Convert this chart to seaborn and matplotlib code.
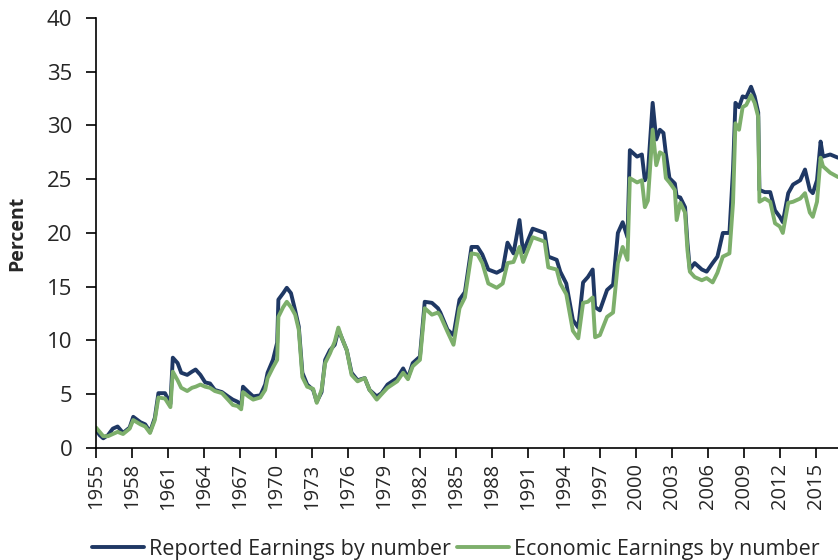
import pandas as pd
import matplotlib
matplotlib.use('Agg')
import matplotlib.pyplot as plt
import seaborn as sns

# Datos (anio, porcentaje)
anios = [1955.0, 1955.3, 1955.6, 1956.0, 1956.4, 1956.8, 1957.25, 1957.8, 1958.1, 1958.7,
         1959.1, 1959.5, 1959.9, 1960.2, 1960.75, 1961.2, 1961.4, 1961.8, 1962.1, 1962.6,
         1963.0, 1963.3, 1963.7, 1964.1, 1964.5, 1964.9, 1965.5, 1966.0, 1966.4, 1966.8,
         1967.1, 1967.25, 1967.7, 1968.1, 1968.7, 1969.1, 1969.3, 1969.75, 1970.1, 1970.2,
         1970.6, 1970.9, 1971.25, 1971.6, 1971.9, 1972.2, 1972.6, 1973.1, 1973.4, 1973.8,
         1974.1, 1974.5, 1974.9, 1975.2, 1975.5, 1975.9, 1976.3, 1976.8, 1977.4, 1977.8,
         1978.4, 1978.8, 1979.3, 1980.1, 1980.6, 1981.0, 1981.4, 1982.0, 1982.4, 1983.0,
         1983.5, 1983.7, 1984.3, 1984.8, 1985.3, 1985.75, 1986.3, 1986.8, 1987.2, 1987.7,
         1988.4, 1988.9, 1989.3, 1989.8, 1990.3, 1990.6, 1991.4, 1992.4, 1992.7, 1993.4,
         1993.7, 1994.2, 1994.75, 1995.2, 1995.6, 1996.0, 1996.4, 1996.6, 1997.0, 1997.6,
         1998.1, 1998.5, 1998.9, 1999.3, 1999.5, 2000.1, 2000.5, 2000.75, 2001.0, 2001.4,
         2001.7, 2002.0, 2002.3, 2002.5, 2002.8, 2003.25, 2003.4, 2003.7, 2004.1, 2004.3,
         2004.5, 2004.9, 2005.5, 2005.9, 2006.4, 2006.8, 2007.25, 2007.8, 2008.1, 2008.3,
         2008.6, 2008.9, 2009.2, 2009.6, 2009.9, 2010.2, 2010.3, 2010.75, 2011.2, 2011.6,
         2012.0, 2012.25, 2012.7, 2013.1, 2013.7, 2014.1, 2014.5, 2014.75, 2015.1, 2015.4,
         2015.6, 2016.2, 2016.85]

reported = [1.7, 1.2, 0.9, 1.2, 1.8, 2.0, 1.4, 1.9, 2.9, 2.4,
            2.2, 1.5, 2.8, 5.1, 5.1, 4.1, 8.4, 7.9, 7.0, 6.8,
            7.1, 7.3, 6.8, 6.1, 6.0, 5.4, 5.2, 4.8, 4.5, 4.3,
            3.9, 5.7, 5.2, 4.8, 4.9, 5.9, 7.0, 8.2, 9.8, 13.8,
            14.4, 14.9, 14.4, 12.8, 11.3, 7.0, 5.9, 5.4, 4.3, 5.2,
            8.2, 9.1, 9.6, 11.0, 10.2, 9.1, 7.0, 6.3, 6.5, 5.4,
            4.8, 5.1, 5.9, 6.5, 7.4, 6.5, 7.9, 8.5, 13.6, 13.5,
            13.0, 12.6, 11.0, 10.5, 13.8, 14.5, 18.7, 18.7, 18.0, 16.6,
            16.3, 16.6, 19.1, 18.1, 21.2, 18.2, 20.4, 20.0, 17.8, 17.5,
            16.4, 15.3, 11.9, 11.2, 15.4, 15.9, 16.6, 13.1, 12.8, 14.7,
            15.2, 20.0, 21.0, 19.6, 27.7, 27.1, 27.3, 24.9, 25.5, 32.1,
            28.7, 29.6, 29.3, 27.4, 25.1, 24.6, 23.4, 23.3, 22.4, 19.1,
            16.6, 17.2, 16.6, 16.4, 17.2, 17.8, 20.0, 20.0, 25.9, 32.1,
            31.7, 32.7, 32.6, 33.6, 32.7, 31.2, 24.0, 23.8, 23.8, 22.1,
            21.5, 21.0, 23.7, 24.5, 24.9, 25.9, 24.0, 23.7, 24.9, 28.5,
            27.1, 27.3, 27.0]

economic = [1.9, 1.5, 1.1, 1.1, 1.3, 1.5, 1.3, 1.8, 2.6, 2.2,
            2.0, 1.4, 2.6, 4.7, 4.6, 3.8, 7.1, 6.3, 5.6, 5.3,
            5.6, 5.7, 5.9, 5.7, 5.6, 5.3, 5.1, 4.5, 4.0, 3.9,
            3.6, 5.2, 4.8, 4.5, 4.7, 5.4, 6.5, 7.5, 8.2, 12.2,
            13.1, 13.6, 13.1, 12.4, 11.0, 6.6, 5.7, 5.5, 4.2, 5.4,
            7.9, 8.8, 9.9, 11.2, 10.2, 9.1, 6.8, 6.2, 6.5, 5.4,
            4.5, 5.0, 5.6, 6.2, 7.0, 6.4, 7.6, 8.2, 13.0, 12.4,
            12.6, 12.3, 10.8, 9.6, 13.0, 14.0, 18.1, 18.0, 17.2, 15.3,
            14.9, 15.3, 17.2, 17.3, 18.7, 17.3, 19.6, 19.2, 16.8, 16.6,
            15.3, 14.3, 10.9, 10.2, 13.5, 13.6, 14.0, 10.3, 10.5, 12.2,
            12.6, 17.2, 18.7, 17.5, 25.1, 24.7, 24.9, 22.4, 23.0, 29.6,
            26.3, 27.5, 27.3, 25.1, 24.7, 24.0, 21.2, 22.8, 21.9, 18.4,
            16.4, 15.9, 15.6, 15.8, 15.4, 16.3, 17.8, 18.1, 22.8, 30.2,
            29.6, 31.7, 31.9, 32.8, 32.1, 30.8, 22.9, 23.2, 22.9, 20.9,
            20.6, 20.0, 22.8, 22.9, 23.2, 23.7, 21.9, 21.5, 22.9, 27.0,
            26.2, 25.6, 25.2]

series = ['Reported Earnings by number', 'Economic Earnings by number']
colores = ['#1F3864', '#7DAF6B']
ticks_x = list(range(1955, 2016, 3))
ticks_y = list(range(0, 41, 5))

df = pd.DataFrame({
    'anio': anios * 2,
    'valor': reported + economic,
    'serie': [series[0]] * len(anios) + [series[1]] * len(anios),
})

sns.set_style('ticks')
plt.rcParams['font.family'] = ['Open Sans', 'DejaVu Sans']

fig = plt.figure(figsize=(8.38, 5.6), dpi=100)
ax = fig.add_axes([0.1146, 0.2, 0.8854, 0.768])
sns.lineplot(data=df, x='anio', y='valor', hue='serie', hue_order=series,
             palette=colores, linewidth=2.8, ax=ax)

ax.set_xlim(1955, 2016.85)
ax.set_ylim(0, 40)
ax.set_xticks(ticks_x)
ax.set_xticklabels([str(t) for t in ticks_x], rotation=90, fontsize=14.5)
ax.set_yticks(ticks_y)
ax.tick_params(axis='y', labelsize=16, length=7, width=1.2, color='black', pad=10)
ax.tick_params(axis='x', length=7, width=1.2, color='black', pad=4)
ax.set_xlabel('')
ax.set_ylabel('Percent', fontsize=14, fontweight='bold', labelpad=14)
for s in ['left', 'bottom']:
    ax.spines[s].set_color('black')
    ax.spines[s].set_linewidth(1.2)
sns.despine(ax=ax)

ax.legend(loc='center', bbox_to_anchor=(0.485, -0.235), ncol=2, frameon=False,
          fontsize=15.5, handlelength=2.4, handletextpad=0.25, columnspacing=0.3,
          borderaxespad=0)

fig.savefig('out.png', dpi=100)
